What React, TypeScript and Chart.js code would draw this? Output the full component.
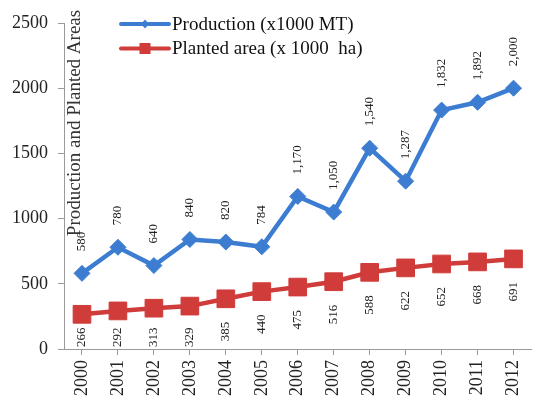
import React, { useEffect, useRef } from "react";
import { Chart, registerables } from "chart.js";

Chart.register(...registerables);

const years = ["2000", "2001", "2002", "2003", "2004", "2005", "2006", "2007", "2008", "2009", "2010", "2011", "2012"];
const production = [580, 780, 640, 840, 820, 784, 1170, 1050, 1540, 1287, 1832, 1892, 2000];
const plantedArea = [266, 292, 313, 329, 385, 440, 475, 516, 588, 622, 652, 668, 691];
const yTicks = [0, 500, 1000, 1500, 2000, 2500];
const productionName = "Production (x1000 MT)";
const areaName = "Planted area (x 1000  ha)";
const yTitle = "Production and Planted Areas";

const BLUE = "rgb(60,125,210)";
const RED = "rgb(208,60,58)";
const AXIS = "#9a9a9a";
const SERIF = '"Liberation Serif", "Times New Roman", serif';

const fmt = (v: number) => v.toLocaleString("en-US");

const overlay = {
  id: "overlay",
  afterDatasetsDraw(chart: any) {
    const ctx: CanvasRenderingContext2D = chart.ctx;
    const area = chart.chartArea;
    ctx.save();
    ctx.font = `13px ${SERIF}`;
    ctx.fillStyle = "#222";
    ctx.textBaseline = "middle";
    ctx.textAlign = "left";
    chart.getDatasetMeta(0).data.forEach((pt: any, i: number) => {
      const txt = fmt(production[i]);
      ctx.save();
      ctx.translate(pt.x, pt.y - 22);
      ctx.rotate(-Math.PI / 2);
      ctx.fillText(txt, 0, 0);
      ctx.restore();
    });
    chart.getDatasetMeta(1).data.forEach((pt: any, i: number) => {
      const txt = fmt(plantedArea[i]);
      const w = ctx.measureText(txt).width;
      const y0 = Math.min(pt.y + 23 + w, area.bottom - 2);
      ctx.save();
      ctx.translate(pt.x, y0);
      ctx.rotate(-Math.PI / 2);
      ctx.fillText(txt, 0, 0);
      ctx.restore();
    });

    // y axis title (inside plot)
    ctx.save();
    ctx.font = `19px ${SERIF}`;
    ctx.fillStyle = "#333";
    ctx.textAlign = "center";
    ctx.translate(75, 123);
    ctx.rotate(-Math.PI / 2);
    ctx.fillText(yTitle, 0, 0);
    ctx.restore();

    // legend
    const items = [
      { name: productionName, color: BLUE, y: 24, shape: "diamond" },
      { name: areaName, color: RED, y: 48.5, shape: "square" },
    ];
    items.forEach((it) => {
      ctx.strokeStyle = it.color;
      ctx.fillStyle = it.color;
      ctx.lineWidth = 4;
      ctx.lineCap = "round";
      ctx.beginPath();
      ctx.moveTo(121, it.y);
      ctx.lineTo(169, it.y);
      ctx.stroke();
      const cx = 145;
      if (it.shape === "diamond") {
        ctx.beginPath();
        ctx.moveTo(cx, it.y - 4.5);
        ctx.lineTo(cx + 4, it.y);
        ctx.lineTo(cx, it.y + 4.5);
        ctx.lineTo(cx - 4, it.y);
        ctx.closePath();
        ctx.fill();
      } else {
        ctx.fillRect(cx - 5.5, it.y - 5.5, 11, 11);
      }
      ctx.font = `19px ${SERIF}`;
      ctx.fillStyle = "#111";
      ctx.textAlign = "left";
      ctx.textBaseline = "middle";
      ctx.fillText(it.name, 172, it.y + 1);
    });
    ctx.restore();
  },
};

export default function App() {
  const ref = useRef<HTMLCanvasElement>(null);
  useEffect(() => {
    if (!ref.current) return;
    const chart = new Chart(ref.current, {
      type: "line",
      data: {
        labels: years,
        datasets: [
          {
            label: productionName,
            data: production,
            borderColor: BLUE,
            backgroundColor: BLUE,
            borderWidth: 4.5,
            pointStyle: "rectRot",
            pointRadius: 8,
            pointBorderWidth: 1,
            pointBackgroundColor: BLUE,
            pointBorderColor: BLUE,
            tension: 0,
          },
          {
            label: areaName,
            data: plantedArea,
            borderColor: RED,
            backgroundColor: RED,
            borderWidth: 4.5,
            pointStyle: "rect",
            pointRadius: 12.5,
            pointBorderWidth: 1,
            pointBackgroundColor: RED,
            pointBorderColor: RED,
            tension: 0,
          },
        ],
      },
      options: {
        responsive: false,
        animation: false,
        devicePixelRatio: 1,
        layout: { padding: { top: 23, right: 0, left: 0, bottom: 0 } },
        plugins: { legend: { display: false }, tooltip: { enabled: false } },
        scales: {
          x: {
            type: "category",
            offset: true,
            grid: { display: true, drawOnChartArea: false, drawTicks: true, tickLength: 6, offset: false, color: AXIS },
            border: { color: AXIS, width: 1 },
            ticks: { minRotation: 90, maxRotation: 90, padding: 5, color: "#222", font: { family: SERIF, size: 18 } },
            afterFit: (s: any) => {
              s.height = 51;
            },
          },
          y: {
            min: 0,
            max: 2500,
            afterBuildTicks: (s: any) => {
              s.ticks = yTicks.map((v) => ({ value: v }));
            },
            grid: { display: true, drawOnChartArea: false, drawTicks: true, tickLength: 6, color: AXIS },
            border: { color: AXIS, width: 1 },
            ticks: {
              padding: 10,
              color: "#222",
              font: { family: SERIF, size: 18 },
              callback: (v: any) => String(v),
            },
            afterFit: (s: any) => {
              s.width = 64;
            },
          },
        },
      },
      plugins: [overlay],
    });
    return () => chart.destroy();
  }, []);
  return (
    <div style={{ position: "absolute", left: 0, top: 0, width: 545, height: 400 }}>
      <canvas ref={ref} width={545} height={400} />
    </div>
  );
}
